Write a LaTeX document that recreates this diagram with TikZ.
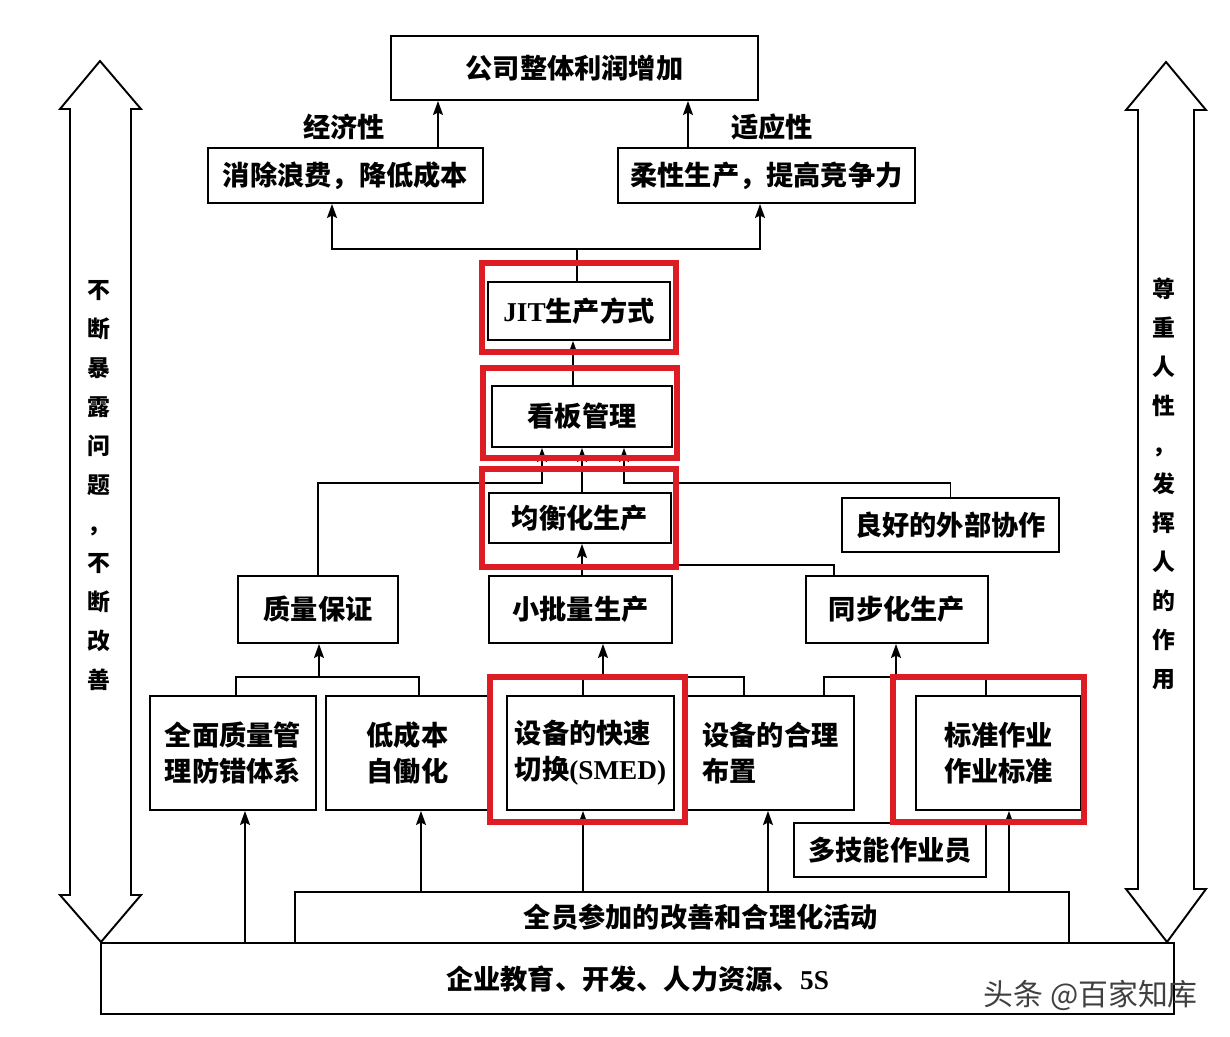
\documentclass[tikz,border=0pt]{standalone}
\usepackage{fontspec}
\setmainfont{Noto Sans CJK SC}
\newfontfamily\latin{Liberation Serif}
\usetikzlibrary{arrows.meta,calc}
\definecolor{hotred}{RGB}{222,28,36}
\newcommand{\boxfont}{\fontsize{15.5pt}{20.5pt}\selectfont\bfseries}
\newcommand{\sidefont}{\fontsize{13pt}{22.2pt}\selectfont\bfseries}

\begin{document}
\begin{tikzpicture}[x=0.02cm,y=-0.02cm,
  >={Stealth[length=2.8mm,width=2mm,inset=0.5mm]},
  box/.style={rectangle,draw,line width=1.1pt,align=center,inner sep=1pt,font=\boxfont},
  tag/.style={font=\boxfont},
  hot/.style={draw=hotred,line width=3pt},
  link/.style={line width=1pt},
  sidearrow/.style={draw,line width=1.1pt,line join=miter},
  sidetext/.style={align=center,font=\sidefont}]

  \useasboundingbox[fill=white] (0,0) rectangle (1230,1036);

  % goal and the two aims
  \node[box,minimum width=7.34cm,minimum height=1.28cm] (profit) at (574.5,68) {公司整体利润增加};
  \node[box,minimum width=5.5cm,minimum height=1.1cm] (waste) at (345.5,175.5) {消除浪费，降低成本};
  \node[box,minimum width=5.94cm,minimum height=1.1cm] (flex) at (766.5,175.5) {柔性生产，提高竞争力};
  \node[tag] (econ) at (344,127) {经济性};
  \node[tag] (adapt) at (772,127) {适应性};

  % core chain
  \node[box,minimum width=3.64cm,minimum height=1.16cm] (jit) at (579,311) {{\latin JIT}生产方式};
  \node[box,minimum width=3.6cm,minimum height=1.22cm] (kanban) at (582,416.5) {看板管理};
  \node[box,minimum width=3.64cm,minimum height=1.0cm] (level) at (580,518) {均衡化生产};
  \node[box,minimum width=4.34cm,minimum height=1.08cm] (coop) at (950.5,525) {良好的外部协作};

  \node[box,minimum width=3.2cm,minimum height=1.34cm] (quality) at (318,609.5) {质量保证};
  \node[box,minimum width=3.66cm,minimum height=1.34cm] (small) at (580.5,609.5) {小批量生产};
  \node[box,minimum width=3.64cm,minimum height=1.34cm] (sync) at (897,609.5) {同步化生产};

  % basic methods
  \node[box,minimum width=3.32cm,minimum height=2.28cm] (tqm) at (233,753) {全面质量管\\理防错体系};
  \node[box,minimum width=3.26cm,minimum height=2.28cm] (jidoka) at (407.5,753) {低成本\\自働化};
  \node[box,align=left,minimum width=3.34cm,minimum height=2.28cm] (smed) at (590.5,753) {设备的快速\\切换{\latin (SMED)}};
  \node[box,align=left,minimum width=3.34cm,minimum height=2.28cm] (layout) at (770.5,753) {设备的合理\\布置};
  \node[box,minimum width=3.3cm,minimum height=2.28cm] (std) at (998.5,753) {标准作业\\作业标准};
  \node[box,minimum width=3.84cm,minimum height=1.08cm] (multi) at (890,850) {多技能作业员};

  % foundation
  \node[box,minimum width=15.48cm,minimum height=1.02cm] (kaizen) at (682,917.5) {\hspace*{0.76cm}全员参加的改善和合理化活动};
  \node[box,minimum width=21.46cm,minimum height=1.42cm] (base) at (637.5,978.5) {企业教育、开发、人力资源、{\latin 5S}};

  % lanes and forks
  \coordinate (laneE) at (438,0);
  \coordinate (laneA) at (688,0);
  \coordinate (upfork) at (577,249);
  \coordinate (laneJ) at (573,0);
  \coordinate (forkL) at (542,483);
  \coordinate (forkR) at (624,483);
  \coordinate (syncbend) at (834,565);
  \coordinate (jA1) at (236,677);
  \coordinate (jA) at (319,677);
  \coordinate (jA2) at (419,677);
  \coordinate (jB1) at (583,677);
  \coordinate (jB) at (603,677);
  \coordinate (jB2) at (744,677);
  \coordinate (jC1) at (824,677);
  \coordinate (jC) at (896,677);
  \coordinate (jC2) at (986,677);

  \draw[link,->] (waste.north -| laneE) -- (profit.south -| laneE);
  \draw[link,->] (flex.north -| laneA) -- (profit.south -| laneA);
  \draw[link,->] (jit.north -| upfork) -- (upfork) -| (waste.south -| 332,0);
  \draw[link,->] (upfork) -| (flex.south -| 760,0);
  \draw[link,->] (kanban.north -| laneJ) -- (jit.south -| laneJ);

  \draw[link,->] (quality.north) |- (forkL) -- (kanban.south -| forkL);
  \draw[link,->] (level.north -| kanban.south) -- (kanban.south);
  \draw[link,->] (coop.north) |- (forkR) -- (kanban.south -| forkR);
  \draw[link,->] (small.north -| kanban.south) -- (level.south -| kanban.south);
  \draw[link] (sync.north -| syncbend) -- (syncbend) -- (syncbend -| kanban.south);

  \draw[link] (tqm.north -| jA1) -- (jA1) -- (jA2) -- (jidoka.north -| jA2);
  \draw[link,->] (jA) -- (quality.south -| jA);
  \draw[link] (smed.north -| jB1) -- (jB1) -- (jB2) -- (layout.north -| jB2);
  \draw[link,->] (jB) -- (small.south -| jB);
  \draw[link] (layout.north -| jC1) -- (jC1) -- (jC2) -- (std.north -| jC2);
  \draw[link,->] (jC) -- (sync.south -| jC);

  \draw[link,->] (base.north -| 245,0) -- (tqm.south -| 245,0);
  \foreach \lx/\dst in {421/jidoka,583/smed,768/layout,1009/std}
    \draw[link,->] (kaizen.north -| \lx,0) -- (\dst.south -| \lx,0);

  % highlight frames
  \draw[hot] (482,263) rectangle (676,352);
  \draw[hot] (483,368) rectangle (677,458);
  \draw[hot] (482,469) rectangle (676,567);
  \draw[hot] (490,677) rectangle (685,822);
  \draw[hot] (893,677) rectangle (1084,822);

  % side arrows
  \draw[sidearrow] (100,61) -- (141,109) -- (131,109) -- (131,895) -- (141,895) -- (101,942)
    -- (60,895) -- (70,895) -- (70,109) -- (60,109) -- cycle;
  \draw[sidearrow] (1166,62) -- (1206,110) -- (1194,110) -- (1194,889) -- (1206,889) -- (1167,942)
    -- (1126,889) -- (1138,889) -- (1138,110) -- (1126,110) -- cycle;
  \node[sidetext] (expose) at (99,485.5) {不\\断\\暴\\露\\问\\题\\，\\不\\断\\改\\善};
  \node[sidetext] (respect) at (1164,484) {尊\\重\\人\\性\\，\\发\\挥\\人\\的\\作\\用};

  \node[font=\fontsize{17pt}{17pt}\selectfont,text=black!75,anchor=east] (mark) at (1204,995) {头条 @百家知库};

\end{tikzpicture}
\end{document}
